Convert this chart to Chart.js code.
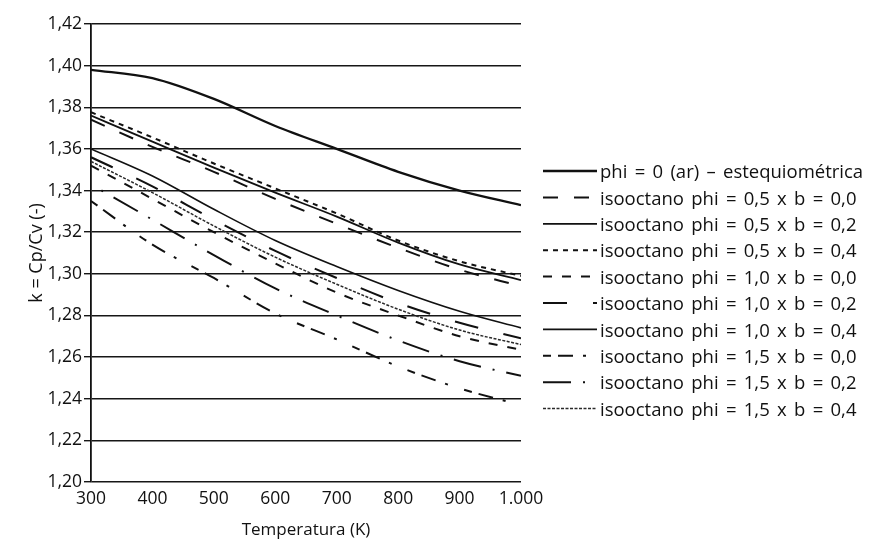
<!DOCTYPE html>
<html>
<head>
<meta charset="utf-8">
<script src="https://cdn.jsdelivr.net/npm/chart.js@4/dist/chart.umd.min.js"></script>
<style>
  html, body { margin: 0; padding: 0; background: #ffffff; }
  #wrap { width: 889px; height: 544px; }
</style>
</head>
<body>
<div id="wrap"><canvas id="chart" width="889" height="544"></canvas></div>
<script>
// Temperatura (K)
const temperatures = [300, 400, 500, 600, 700, 800, 900, 1000];

// k = Cp/Cv for each mixture
const kAr        = [1.398, 1.394, 1.384, 1.371, 1.360, 1.349, 1.340, 1.333];
const kPhi05b00  = [1.374, 1.361, 1.349, 1.336, 1.324, 1.3125, 1.302, 1.294];
const kPhi05b02  = [1.376, 1.3635, 1.351, 1.339, 1.3275, 1.315, 1.3045, 1.297];
const kPhi05b04  = [1.3776, 1.3655, 1.353, 1.341, 1.329, 1.316, 1.306, 1.299];
const kPhi10b00  = [1.352, 1.336, 1.320, 1.305, 1.291, 1.280, 1.270, 1.2635];
const kPhi10b02  = [1.356, 1.342, 1.326, 1.311, 1.298, 1.286, 1.2765, 1.269];
const kPhi10b04  = [1.360, 1.347, 1.331, 1.316, 1.3035, 1.292, 1.282, 1.274];
const kPhi15b00  = [1.335, 1.314, 1.298, 1.281, 1.2685, 1.2555, 1.245, 1.237];
const kPhi15b02  = [1.343, 1.326, 1.309, 1.293, 1.280, 1.268, 1.258, 1.251];
const kPhi15b04  = [1.354, 1.339, 1.323, 1.308, 1.295, 1.283, 1.273, 1.266];

const seriesLabels = [
  'phi = 0 (ar) – estequiométrica',
  'isooctano phi = 0,5 x b = 0,0',
  'isooctano phi = 0,5 x b = 0,2',
  'isooctano phi = 0,5 x b = 0,4',
  'isooctano phi = 1,0 x b = 0,0',
  'isooctano phi = 1,0 x b = 0,2',
  'isooctano phi = 1,0 x b = 0,4',
  'isooctano phi = 1,5 x b = 0,0',
  'isooctano phi = 1,5 x b = 0,2',
  'isooctano phi = 1,5 x b = 0,4'
];
const seriesValues = [kAr, kPhi05b00, kPhi05b02, kPhi05b04, kPhi10b00,
                      kPhi10b02, kPhi10b04, kPhi15b00, kPhi15b02, kPhi15b04];

// y tick labels, 1,20 ... 1,42
const yTickValues = [1.20, 1.22, 1.24, 1.26, 1.28, 1.30, 1.32, 1.34, 1.36, 1.38, 1.40, 1.42];

// line styles, one per series
const lineStyles = [
  { width: 2.3, dash: [] },
  { width: 2.0, dash: [15, 16] },
  { width: 1.8, dash: [] },
  { width: 2.0, dash: [5, 5] },
  { width: 2.0, dash: [9, 10] },
  { width: 2.1, dash: [24, 26] },
  { width: 1.6, dash: [] },
  { width: 2.0, dash: [8, 7, 15, 10, 3, 17] },
  { width: 2.0, dash: [28, 12, 2, 12], offset: 28 },
  { width: 1.5, dash: [3, 1.5], color: '#2a2a2a' }
];

const FONT = '"Open Sans", "DejaVu Sans", sans-serif';
const INK = '#111111';

const datasets = seriesValues.map((vals, i) => ({
  label: seriesLabels[i],
  data: temperatures.map((t, j) => ({ x: t, y: vals[j] })),
  borderColor: lineStyles[i].color || INK,
  borderWidth: lineStyles[i].width,
  borderDash: lineStyles[i].dash,
  borderDashOffset: lineStyles[i].offset || 0,
  pointRadius: 0,
  fill: false,
  cubicInterpolationMode: 'monotone'
}));

// Legend drawn at the right of the plot: a line sample then the label
const sideLegend = {
  id: 'sideLegend',
  afterDraw(chart, args, opts) {
    const ctx = chart.ctx;
    ctx.save();
    ctx.font = '18.5px ' + FONT;
    ctx.textBaseline = 'middle';
    ctx.textAlign = 'left';
    if ('wordSpacing' in ctx) ctx.wordSpacing = '2.5px';
    chart.data.datasets.forEach((ds, i) => {
      const y = opts.top + i * opts.step;
      ctx.beginPath();
      ctx.setLineDash(ds.borderDash || []);
      ctx.lineDashOffset = 0;
      ctx.lineWidth = ds.borderWidth;
      ctx.strokeStyle = ds.borderColor;
      ctx.moveTo(opts.x0, y);
      ctx.lineTo(opts.x1, y);
      ctx.stroke();
      ctx.setLineDash([]);
      ctx.fillStyle = INK;
      ctx.fillText(ds.label, opts.textX, y + 2);
    });
    ctx.restore();
  }
};

new Chart(document.getElementById('chart'), {
  type: 'line',
  data: { datasets },
  plugins: [sideLegend],
  options: {
    responsive: false,
    animation: false,
    events: [],
    layout: { padding: { top: 24, right: 368, bottom: 0, left: 0 } },
    plugins: {
      legend: { display: false },
      tooltip: { enabled: false },
      sideLegend: { x0: 543, x1: 597, textX: 600, top: 171, step: 26.4 }
    },
    scales: {
      x: {
        type: 'linear',
        min: 300,
        max: 1000,
        afterFit: s => { s.height = 62; },
        grid: { display: false, drawTicks: false },
        border: { display: false },
        ticks: {
          stepSize: 100,
          padding: 7,
          color: INK,
          font: { family: FONT, size: 17.5 },
          maxRotation: 0,
          callback: v => v >= 1000 ? Math.floor(v / 1000) + '.' + String(v % 1000).padStart(3, '0') : String(v)
        },
        title: {
          display: true,
          text: 'Temperatura (K)',
          color: INK,
          font: { family: FONT, size: 17 },
          padding: { top: 0, bottom: 4 }
        }
      },
      y: {
        type: 'linear',
        min: 1.20,
        max: 1.42,
        afterFit: s => { s.width = 91; },
        afterBuildTicks: s => { s.ticks = yTickValues.map(v => ({ value: v })); },
        grid: { color: '#161616', lineWidth: 1.4, drawTicks: true, tickLength: 7, tickColor: '#161616' },
        border: { display: true, color: INK, width: 1.8 },
        ticks: {
          padding: 2,
          color: INK,
          font: { family: FONT, size: 17.5 },
          callback: v => v.toFixed(2).replace('.', ',')
        },
        title: {
          display: true,
          text: 'k = Cp/Cv (-)',
          color: INK,
          font: { family: FONT, size: 18 },
          padding: { top: 26, bottom: 0 }
        }
      }
    }
  }
});
</script>
</body>
</html>
